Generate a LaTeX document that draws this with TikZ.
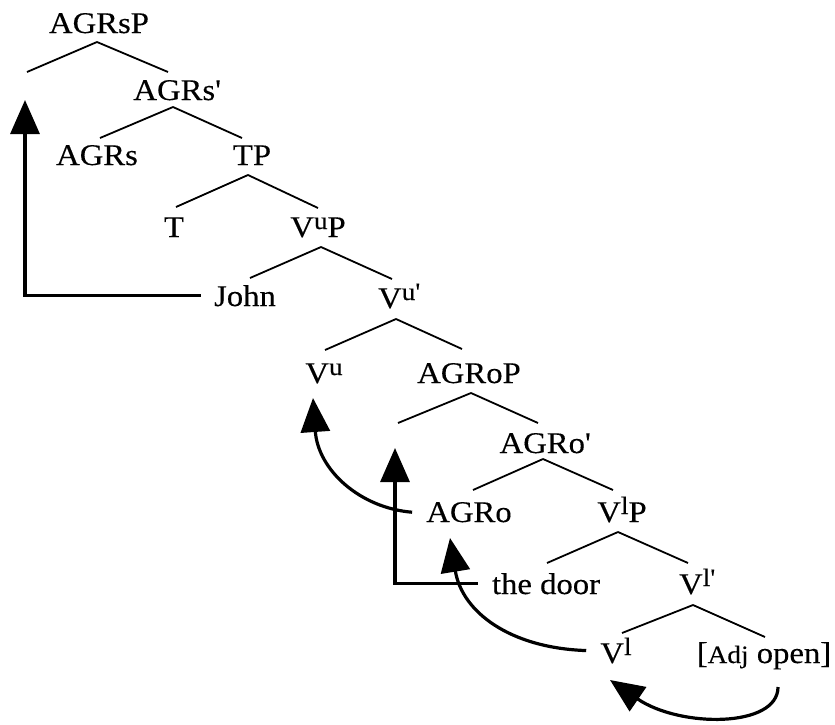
\documentclass[tikz,border=0pt]{standalone}
\usepackage{fontspec}
\setmainfont{Liberation Serif}[FakeStretch=1.09,FakeBold=0.3]
\usetikzlibrary{arrows.meta,calc}
\newcommand\upx[1]{\raisebox{8pt}{\fontsize{25}{25}\selectfont #1}}
\newcommand\prm{\textquotesingle}
\begin{document}
\begin{tikzpicture}[x=1pt,y=-1pt,
  lab/.style={inner sep=0pt, anchor=base, font=\fontsize{30}{35}\selectfont},
  branch/.style={line width=1.8pt},
  mv/.style={line width=3.2pt, -{Triangle[length=34pt,width=29pt]}}]
\useasboundingbox (0,0) rectangle (835,724);
% nodes
\node[lab] (AGRsP) at (99,33) {AGRsP};
\node[lab] (AGRsb) at (177,100) {AGRs\prm};
\node[lab] (AGRs) at (97,165) {AGRs};
\node[lab] (TP) at (252,165) {TP};
\node[lab] (T) at (174,237) {T};
\node[lab] (VuP) at (318,237) {V\upx{u}P};
\node[lab] (John) at (245,306) {John};
\node[lab] (Vub) at (399,308) {V\upx{u\prm}};
\node[lab] (Vu) at (324,383) {V\upx{u}};
\node[lab] (AGRoP) at (469,383) {AGRoP};
\node[lab] (AGRob) at (545,453) {AGRo\prm};
\node[lab] (AGRo) at (469,522) {AGRo};
\node[lab] (VlP) at (622,522) {V\upx{l}P};
\node[lab] (door) at (546,594) {the door};
\node[lab] (Vlb) at (697,594) {V\upx{l\prm}};
\node[lab] (Vl) at (616,663) {V\upx{l}};
\node[lab] (Adj) at (764,663) {[{\fontsize{25}{25}\selectfont Adj} open]};
\coordinate (specS) at (27,72);
\coordinate (specO) at (398,423);
\coordinate (tS) at (25,100);
\coordinate (tO) at (395,448);
\coordinate (tVu) at (313,398);
\coordinate (tAGRo) at (450,538);
\coordinate (tVl) at (610,680);
% branches
\draw[branch] ([yshift=-9pt,xshift=-2pt]AGRsP.base) -- (specS);
\draw[branch] ([yshift=-9pt,xshift=-2pt]AGRsP.base) -- ([yshift=28pt,xshift=-9pt]AGRsb.base);
\draw[branch] ([yshift=-7pt,xshift=-4pt]AGRsb.base) -- ([yshift=27pt,xshift=3pt]AGRs.base);
\draw[branch] ([yshift=-7pt,xshift=-4pt]AGRsb.base) -- ([yshift=27pt,xshift=-10pt]TP.base);
\draw[branch] ([yshift=-10pt,xshift=-4pt]TP.base) -- ([yshift=30pt,xshift=2pt]T.base);
\draw[branch] ([yshift=-10pt,xshift=-4pt]TP.base) -- ([yshift=29pt,xshift=0pt]VuP.base);
\draw[branch] ([yshift=-10pt,xshift=3pt]VuP.base) -- ([yshift=28pt,xshift=5pt]John.base);
\draw[branch] ([yshift=-10pt,xshift=3pt]VuP.base) -- ([yshift=29pt,xshift=-7pt]Vub.base);
\draw[branch] ([yshift=-11pt,xshift=-3pt]Vub.base) -- ([yshift=33pt,xshift=1pt]Vu.base);
\draw[branch] ([yshift=-11pt,xshift=-3pt]Vub.base) -- ([yshift=34pt,xshift=-7pt]AGRoP.base);
\draw[branch] ([yshift=-10pt,xshift=2pt]AGRoP.base) -- (specO);
\draw[branch] ([yshift=-10pt,xshift=2pt]AGRoP.base) -- ([yshift=30pt,xshift=-7pt]AGRob.base);
\draw[branch] ([yshift=-6pt,xshift=-2pt]AGRob.base) -- ([yshift=32pt,xshift=4pt]AGRo.base);
\draw[branch] ([yshift=-6pt,xshift=-2pt]AGRob.base) -- ([yshift=32pt,xshift=-9pt]VlP.base);
\draw[branch] ([yshift=-10pt,xshift=-4pt]VlP.base) -- ([yshift=31pt,xshift=1pt]door.base);
\draw[branch] ([yshift=-10pt,xshift=-4pt]VlP.base) -- ([yshift=31pt,xshift=-9pt]Vlb.base);
\draw[branch] ([yshift=-11pt,xshift=-4pt]Vlb.base) -- ([yshift=30pt,xshift=6pt]Vl.base);
\draw[branch] ([yshift=-11pt,xshift=-4pt]Vlb.base) -- ([yshift=26pt,xshift=1pt]Adj.base);
% movement arrows
\draw[mv] ([xshift=-13pt]John.west) -| (tS);
\draw[mv] ([xshift=-14pt]door.west) -| (tO);
\draw[mv] ([xshift=-14pt]AGRo.west) .. controls (360,508) and (318,470) .. (tVu);
\draw[mv] ([xshift=-14pt]Vl.west) .. controls (510,648) and (462,612) .. (tAGRo);
\draw[mv] ([xshift=14pt,yshift=-24pt]Adj.base) .. controls (778,728) and (680,728) .. (tVl);
\end{tikzpicture}
\end{document}
